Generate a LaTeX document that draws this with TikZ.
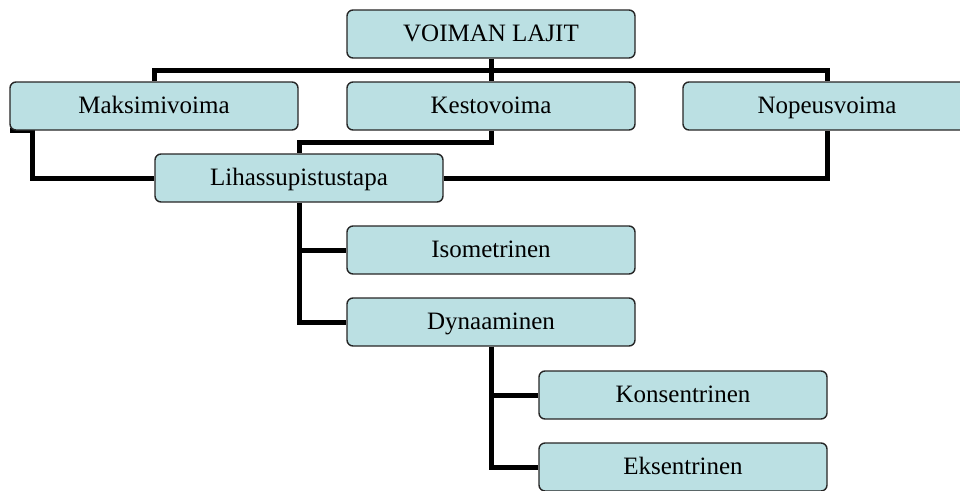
\documentclass[tikz,border=0pt]{standalone}
\usepackage{fontspec}
\setmainfont{Liberation Serif}
\usetikzlibrary{backgrounds,calc}
\definecolor{boxfill}{RGB}{187,224,227}
\begin{document}
\begin{tikzpicture}[x=1pt,y=-1pt,
  box/.style={draw=black!85, line width=1.4pt, fill=boxfill, rounded corners=6pt,
    minimum width=288pt, minimum height=48pt, inner sep=0pt,
    text height=18pt, text depth=4pt,
    font=\fontsize{25}{30}\selectfont},
  link/.style={line width=5pt, line join=miter, draw=black}]
\useasboundingbox (0,0) rectangle (960,490);
\clip (0,0) rectangle (960,490);
\node[box] (top)    at (491,34)  {VOIMAN LAJIT};
\node[box] (maks)   at (154,106) {Maksimivoima};
\node[box] (kesto)  at (491,106) {Kestovoima};
\node[box] (nopeus) at (827,106) {Nopeusvoima};
\node[box] (lihas)  at (299,178) {Lihassupistustapa};
\node[box] (iso)    at (491,250) {Isometrinen};
\node[box] (dyn)    at (491,322) {Dynaaminen};
\node[box] (kons)   at (683,395) {Konsentrinen};
\node[box] (eks)    at (683,467) {Eksentrinen};
\begin{pgfonlayer}{background}
  \draw[link] (top.south) -- (kesto.north);
  \draw[link] (maks.north) |- ($(top.south)!.5!(kesto.north)$) -| (nopeus.north);
  \draw[link] (kesto.south) -- ++(0,12) -| (lihas.north);
  \draw[link] ([xshift=1pt]maks.south west) -- ++(22,0) |- (lihas.west);
  \draw[link] (lihas.east) -| (nopeus.south);
  \draw[link] (lihas.south) |- (iso.west);
  \draw[link] (lihas.south) |- (dyn.west);
  \draw[link] (dyn.south) |- (kons.west);
  \draw[link] (dyn.south) |- (eks.west);
\end{pgfonlayer}
\end{tikzpicture}
\end{document}
